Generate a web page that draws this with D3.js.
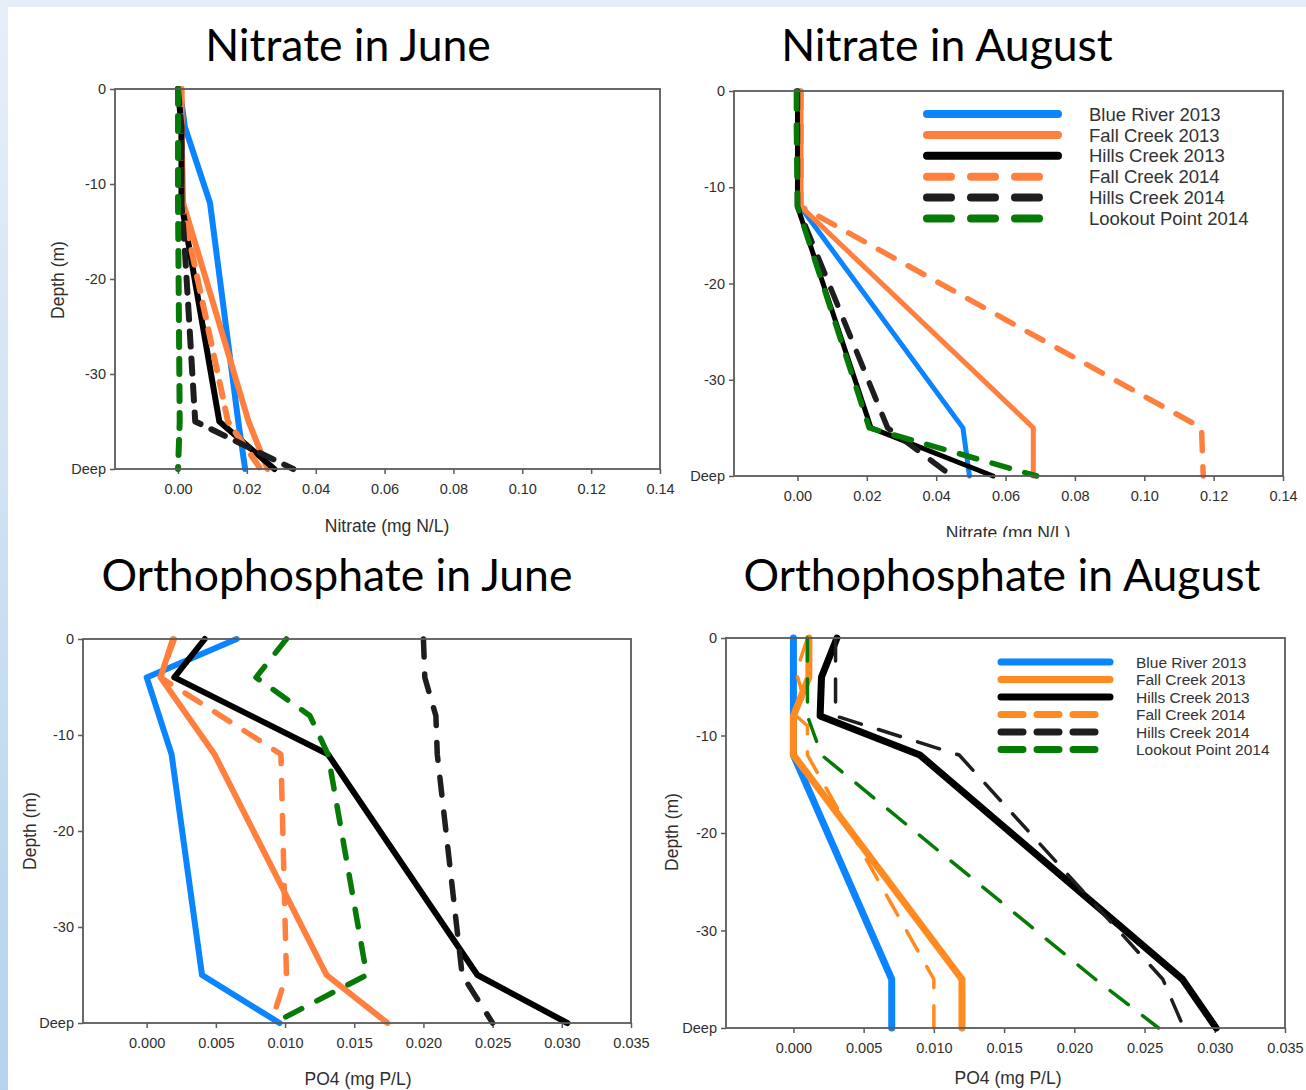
<!DOCTYPE html>
<html>
<head>
<meta charset="utf-8">
<script src="https://cdn.jsdelivr.net/npm/d3@7"></script>
<style>
  body { margin: 0; background: #ffffff; }
  svg { display: block; }
</style>
</head>
<body>
<script>
// ---- Data -------------------------------------------------------------
const seriesNames = [
  "Blue River 2013", "Fall Creek 2013", "Hills Creek 2013",
  "Fall Creek 2014", "Hills Creek 2014", "Lookout Point 2014"
];

// Sampling depths (m); -40 is the "Deep" sample
const standardDepths = [0, -4, -12, -35, -40];
const depthTicks = [0, -10, -20, -30, -40];
const nitrateTicks = [0, 0.02, 0.04, 0.06, 0.08, 0.10, 0.12, 0.14];
const po4Ticks = [0, 0.005, 0.010, 0.015, 0.020, 0.025, 0.030, 0.035];

// Nitrate (mg N/L), June
const nitrateJuneDepths = [
  standardDepths, standardDepths, standardDepths, standardDepths,
  [0, -4, -12, -17, -35, -40], standardDepths
];
const nitrateJuneValues = [
  [0.0005, 0.002, 0.0093, 0.0175, 0.0195],
  [0.001, 0.001, 0.0015, 0.0205, 0.026],
  [0.000, 0.001, 0.001, 0.012, 0.028],
  [0.001, 0.001, 0.001, 0.0145, 0.024],
  [0.000, 0.001, 0.001, 0.002, 0.005, 0.0335],
  [0.000, 0.000, 0.000, 0.0005, 0.000]
];

// Nitrate (mg N/L), August
const nitrateAugDepths = [
  standardDepths, standardDepths, standardDepths,
  [0, -4, -12, -13, -35, -40], standardDepths, standardDepths
];
const nitrateAugValues = [
  [0.0005, 0.0005, 0.0008, 0.0477, 0.0496],
  [0.001, 0.001, 0.001, 0.068, 0.068],
  [0.000, 0.000, 0.000, 0.0212, 0.0564],
  [0.001, 0.001, 0.001, 0.006, 0.1165, 0.117],
  [0.000, 0.000, 0.000, 0.026, 0.0445],
  [-0.0003, -0.0003, 0.000, 0.0207, 0.069]
];

// Orthophosphate (mg P/L), June
const po4JuneDepths = [
  standardDepths, standardDepths, standardDepths, standardDepths,
  [0, -4, -8, -12, -35, -40], [0, -4, -8, -12, -35, -40]
];
const po4JuneValues = [
  [0.0065, 0.000, 0.0018, 0.004, 0.0096],
  [0.0019, 0.001, 0.0049, 0.013, 0.0174],
  [0.0042, 0.002, 0.0131, 0.0239, 0.0304],
  [0.002, 0.001, 0.0097, 0.0101, 0.009],
  [0.020, 0.0201, 0.0209, 0.021, 0.0228, 0.025],
  [0.0101, 0.0079, 0.0118, 0.0131, 0.0159, 0.0092]
];

// Orthophosphate (mg P/L), August
const po4AugDepths = [
  [0, -4, -8, -12, -35, -40],
  [0, -4, -8, -12, -35, -40],
  [0, -4, -8, -12, -35, -40],
  [0, -3.5, -6, -8, -9, -12, -35, -40],
  [0, -4, -8, -12, -35, -40],
  [0, -4, -8, -10, -12, -35, -40]
];
const po4AugValues = [
  [0.000, 0.000, 0.000, 0.000, 0.007, 0.007],
  [0.0011, 0.0011, 0.000, 0.000, 0.012, 0.012],
  [0.0031, 0.002, 0.0019, 0.009, 0.0277, 0.0301],
  [0.001, 0.0002, 0.0007, 0.0002, 0.001, 0.001, 0.010, 0.010],
  [0.003, 0.003, 0.003, 0.0118, 0.0263, 0.0278],
  [0.001, 0.001, 0.001, 0.0015, 0.002, 0.0215, 0.026]
];

// ---- Styling ------------------------------------------------------------
const W = 1306, H = 1090;
const TICK_FONT = "'Liberation Sans', Arial, sans-serif";
const TITLE_FONT = "Lato, 'Open Sans', sans-serif";
const isDashed = [false, false, false, true, true, true];

const svg = d3.select("body").append("svg")
  .attr("width", W).attr("height", H);

// Slide-like backdrop: pale blue strips along the top and left edges
const defs = svg.append("defs");
const grad = defs.append("linearGradient").attr("id", "edgeGrad")
  .attr("x1", 0).attr("y1", 0).attr("x2", 0).attr("y2", 1);
grad.append("stop").attr("offset", "0%").attr("stop-color", "#e6eff9");
grad.append("stop").attr("offset", "100%").attr("stop-color", "#b5d2ee");
svg.append("rect").attr("width", W).attr("height", H).attr("fill", "#ffffff");
svg.append("rect").attr("x", 0).attr("y", 0).attr("width", W).attr("height", 7).attr("fill", "#e4eef8");
svg.append("rect").attr("x", 0).attr("y", 0).attr("width", 8).attr("height", H).attr("fill", "url(#edgeGrad)");

defs.append("clipPath").attr("id", "clipTopRight")
  .append("rect").attr("x", 662).attr("y", 0).attr("width", 660).attr("height", 537);

function drawPanel(p) {
  const g = svg.append("g");
  if (p.clip) g.attr("clip-path", `url(#${p.clip})`);

  const x = d3.scaleLinear().domain(p.xDomain).range([p.left, p.right]);
  const y = d3.scaleLinear().domain([0, -40]).range([p.top, p.bottom]);

  // title
  g.append("text")
    .attr("x", p.titleX).attr("y", p.titleY)
    .attr("text-anchor", "middle")
    .attr("font-family", TITLE_FONT).attr("font-size", 44.5)
    .attr("fill", "#000")
    .text(p.title);

  // axes
  const xAxis = d3.axisBottom(x).tickValues(p.xTicks)
    .tickFormat(d3.format(p.xFormat)).tickSize(5).tickPadding(10);
  const yAxis = d3.axisLeft(y).tickValues(depthTicks)
    .tickFormat(d => d === -40 ? "Deep" : String(d)).tickSize(5).tickPadding(4);

  const gx = g.append("g").attr("transform", `translate(0,${p.bottom})`).call(xAxis);
  const gy = g.append("g").attr("transform", `translate(${p.left},0)`).call(yAxis);
  [gx, gy].forEach(a => {
    a.select(".domain").remove();
    a.selectAll(".tick line").attr("stroke", "#5a5a5a").attr("stroke-width", 1.5);
    a.selectAll(".tick text")
      .attr("font-family", TICK_FONT).attr("font-size", 14.5)
      .attr("fill", "#2e2e2e");
  });

  // data lines
  const line = d3.line().x(d => x(d[0])).y(d => y(d[1]));
  p.values.forEach((vals, i) => {
    const pts = vals.map((v, k) => [v, p.depths[i][k]]);
    const dashed = isDashed[i];
    g.append("path")
      .datum(pts)
      .attr("d", line)
      .attr("fill", "none")
      .attr("stroke", p.colors[i])
      .attr("stroke-width", dashed ? p.dashWidth : p.solidWidth)
      .attr("stroke-linecap", "round")
      .attr("stroke-linejoin", "round")
      .attr("stroke-dasharray", dashed ? p.dashArray : null);
  });

  // frame
  g.append("rect")
    .attr("x", p.left).attr("y", p.top)
    .attr("width", p.right - p.left).attr("height", p.bottom - p.top)
    .attr("fill", "none").attr("stroke", "#5a5a5a").attr("stroke-width", 1.8);

  // axis titles
  g.append("text")
    .attr("x", p.xLabelX).attr("y", p.xLabelY)
    .attr("text-anchor", "middle")
    .attr("font-family", TICK_FONT).attr("font-size", 17.5).attr("fill", "#2e2e2e")
    .text(p.xLabel);
  if (p.yLabelX !== undefined) {
    g.append("text")
      .attr("transform", `translate(${p.yLabelX},${p.yLabelY}) rotate(-90)`)
      .attr("text-anchor", "middle")
      .attr("font-family", TICK_FONT).attr("font-size", 17.5).attr("fill", "#2e2e2e")
      .text("Depth (m)");
  }

  // legend
  if (p.legend) {
    const L = p.legend;
    seriesNames.forEach((name, i) => {
      const ly = L.y0 + i * L.dy;
      g.append("line")
        .attr("x1", L.x1).attr("x2", isDashed[i] ? L.x2d : L.x2)
        .attr("y1", ly).attr("y2", ly)
        .attr("stroke", p.colors[i]).attr("stroke-width", L.width)
        .attr("stroke-linecap", "round")
        .attr("stroke-dasharray", isDashed[i] ? L.dash : null);
      g.append("text")
        .attr("x", L.tx).attr("y", ly).attr("dy", "0.36em")
        .attr("font-family", TICK_FONT).attr("font-size", L.fontSize)
        .attr("fill", "#333")
        .text(name);
    });
  }
}

const colorsA = ["#0a84ff", "#ff7f3f", "#000000", "#ff7f3f", "#1e1e1e", "#067a06"];
const colorsB = ["#0a84ff", "#ff8a1f", "#000000", "#ff8a1f", "#1e1e1e", "#067a06"];

drawPanel({
  title: "Nitrate in June", titleX: 348, titleY: 61,
  left: 115, right: 660, top: 89, bottom: 469,
  xDomain: [-0.0183, 0.14], xTicks: nitrateTicks, xFormat: ".2f",
  values: nitrateJuneValues, depths: nitrateJuneDepths, colors: colorsA,
  solidWidth: 6, dashWidth: 6, dashArray: "15,12",
  xLabel: "Nitrate (mg N/L)", xLabelX: 387, xLabelY: 532,
  yLabelX: 64, yLabelY: 280
});

drawPanel({
  title: "Nitrate in August", titleX: 947, titleY: 61, clip: "clipTopRight",
  left: 734, right: 1283, top: 91, bottom: 476,
  xDomain: [-0.0183, 0.14], xTicks: nitrateTicks, xFormat: ".2f",
  values: nitrateAugValues, depths: nitrateAugDepths, colors: colorsA,
  solidWidth: 5, dashWidth: 5.5, dashArray: "18,16",
  xLabel: "Nitrate (mg N/L)", xLabelX: 1008, xLabelY: 539,
  legend: { x1: 927, x2: 1058, x2d: 1040, y0: 114, dy: 20.9, width: 8,
            dash: "24,20", tx: 1089, fontSize: 18.5 }
});

drawPanel({
  title: "Orthophosphate in June", titleX: 337, titleY: 591,
  left: 83, right: 631, top: 639, bottom: 1023,
  xDomain: [-0.0046, 0.035], xTicks: po4Ticks, xFormat: ".3f",
  values: po4JuneValues, depths: po4JuneDepths, colors: colorsA,
  solidWidth: 6, dashWidth: 5.5, dashArray: "18,17",
  xLabel: "PO4 (mg P/L)", xLabelX: 358, xLabelY: 1085,
  yLabelX: 36, yLabelY: 831
});

drawPanel({
  title: "Orthophosphate in August", titleX: 1002, titleY: 591,
  left: 726, right: 1285, top: 638, bottom: 1028,
  xDomain: [-0.0048, 0.035], xTicks: po4Ticks, xFormat: ".3f",
  values: po4AugValues, depths: po4AugDepths, colors: colorsB,
  solidWidth: 7, dashWidth: 3.5, dashArray: "23,18",
  xLabel: "PO4 (mg P/L)", xLabelX: 1008, xLabelY: 1084,
  yLabelX: 678, yLabelY: 832,
  legend: { x1: 1001, x2: 1110, x2d: 1095, y0: 662, dy: 17.5, width: 7,
            dash: "22,14", tx: 1136, fontSize: 15.5 }
});
</script>
</body>
</html>
